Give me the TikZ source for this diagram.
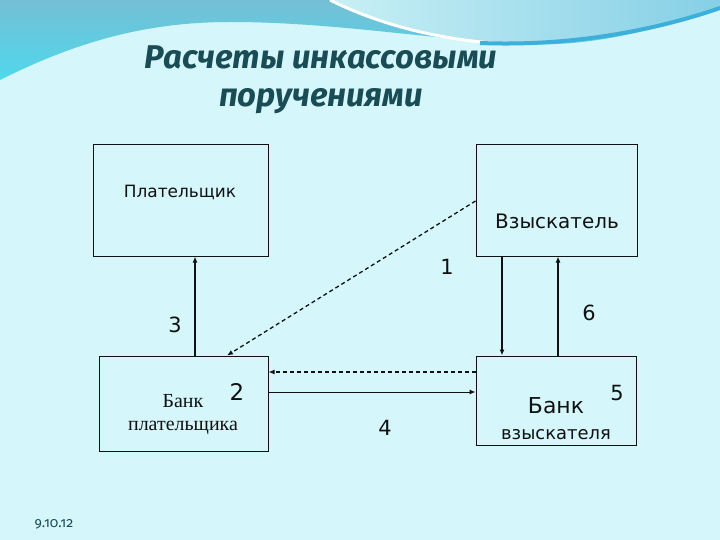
\documentclass[tikz,border=0pt]{standalone}
\usepackage{fontspec}
\setmainfont{DejaVu Sans}
\newfontfamily\timesfont{Liberation Serif}
\newfontfamily\titlefont{Fira Sans}
\usetikzlibrary{arrows.meta,calc,positioning}

\definecolor{bgcyan}{HTML}{D5F6FA}
\definecolor{wavetop}{HTML}{74BFD5}
\definecolor{wavelow}{HTML}{4FD8EB}
\definecolor{swooshl}{HTML}{C8F0F5}
\definecolor{swooshr}{HTML}{86CFE6}
\definecolor{stripe}{HTML}{3CB0DA}
\definecolor{titleteal}{HTML}{1A4C55}
\definecolor{ink}{HTML}{111111}

\begin{document}
\begin{tikzpicture}[x=1bp, y=-1bp, >={Latex[length=6bp,width=5bp]},
  box/.style={draw=ink, line width=1bp, inner sep=0pt},
  lbl/.style={inner sep=0pt, anchor=base, text=ink},
  num/.style={lbl, font=\fontsize{21}{21}\selectfont},
  titletext/.style={lbl, text=titleteal, font=\titlefont\bfseries\itshape\fontsize{33}{33}\selectfont},
  solidline/.style={draw=ink, line width=1.7bp},
  thinline/.style={draw=ink, line width=1bp},
  dashline/.style={draw=ink, line width=1.3bp, dash pattern=on 4bp off 3bp}]
  \useasboundingbox (0,0) rectangle (720,540);

  % background and top wave
  \fill[bgcyan] (0,0) rectangle (720,540);
  \shade[top color=wavetop, bottom color=wavelow]
    (0,0) -- (720,0) -- (720,7)
    .. controls (670,25) and (600,48) .. (520,44)
    .. controls (420,38) and (330,22) .. (230,22)
    .. controls (140,22) and (70,45) .. (0,80) -- cycle;
  \shade[left color=swooshl, right color=swooshr]
    (330,0) .. controls (380,25) and (440,40) .. (505,44)
    .. controls (600,46) and (670,26) .. (720,6) -- (720,0) -- cycle;
  \draw[white, line width=3bp] (330,0) .. controls (380,25) and (440,40) .. (505,44);
  \draw[stripe, line width=4bp] (480,43) .. controls (580,47) and (665,27) .. (720,8);

  % title
  \node[titletext] (title1) at (321,69) {Расчеты инкассовыми};
  \node[titletext] (title2) at (321,107) {поручениями};

  % boxes
  \node[box, minimum width=175bp, minimum height=111bp] (payer) at (180.5,200.5) {};
  \node[box, minimum width=161bp, minimum height=111bp] (collector) at (556.5,200.5) {};
  \node[box, minimum width=169bp, minimum height=95bp] (bankP) at (183.5,403.5) {};
  \node[box, minimum width=160bp, minimum height=89bp] (bankC) at (556,400.5) {};

  \node[lbl, font=\fontsize{17}{17}\selectfont] (payerT) at (180,198) {Плательщик};
  \node[lbl, font=\fontsize{20}{20}\selectfont] (collectorT) at (557,229) {Взыскатель};
  \node[lbl, font=\timesfont\fontsize{20}{20}\selectfont] (bankPT1) at (183,407) {Банк};
  \node[lbl, font=\timesfont\fontsize{20}{20}\selectfont] (bankPT2) at (183,430) {плательщика};
  \node[lbl, font=\fontsize{22}{22}\selectfont] (bankCT1) at (556,413) {Банк};
  \node[lbl, font=\fontsize{18}{18}\selectfont] (bankCT2) at (556,439) {взыскателя};

  % step numbers
  \node[num] (n1) at (447,275) {1};
  \node[num, font=\fontsize{23}{23}\selectfont] (n2) at (237,400) {2};
  \node[num] (n3) at (175,332) {3};
  \node[num] (n4) at (385,435) {4};
  \node[num] (n5) at (617,400) {5};
  \node[num] (n6) at (589,320) {6};

  % arrows
  \coordinate (c3) at (195,0);
  \coordinate (cdn) at (502,0);
  \coordinate (c6) at (558,0);
  \coordinate (d1) at (0,201);
  \coordinate (d2) at (227,0);
  \coordinate (h1) at (0,372);
  \coordinate (h2) at (0,392);

  \draw[solidline,->] (bankP.north -| c3) -- (payer.south -| c3);
  \draw[solidline,->] (collector.south -| cdn) -- (bankC.north -| cdn);
  \draw[solidline,->] (bankC.north -| c6) -- (collector.south -| c6);
  \draw[dashline,->] (collector.west |- d1) -- (bankP.north -| d2);
  \draw[dashline,->] (bankC.west |- h1) -- (bankP.east |- h1);
  \draw[thinline,->] (bankP.east |- h2) -- (bankC.west |- h2);

  \node[lbl, text=titleteal, font=\titlefont\addfontfeature{Numbers=OldStyle}\fontsize{14}{14}\selectfont] (date) at (54,527) {9.10.12};
\end{tikzpicture}
\end{document}
